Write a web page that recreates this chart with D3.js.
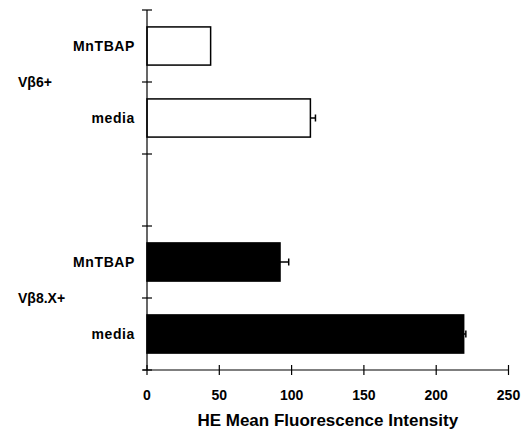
<!DOCTYPE html>
<html>
<head>
<meta charset="utf-8">
<script src="https://cdn.jsdelivr.net/npm/d3@7"></script>
<style>
	body { margin: 0; background: #fff; }
	text { font-family: Arial, 'Liberation Sans', Helvetica, sans-serif; font-weight: bold; fill: #000; }
</style>
</head>
<body>
<svg id="chart" width="527" height="433"></svg>
<script>
// Slots from top to bottom; the empty slot separates the two groups.
const slots = ['v6-MnTBAP', 'v6-media', 'gap', 'v8-MnTBAP', 'v8-media'];
const treatments = ['MnTBAP', 'media', '', 'MnTBAP', 'media'];
const groups = ['V\u03b26+', 'V\u03b26+', '', 'V\u03b28.X+', 'V\u03b28.X+'];
const values = [44, 113, null, 92, 219];
const errors = [0, 3.5, null, 6, 1.5];
const xTicks = [0, 50, 100, 150, 200, 250];
const xTitle = 'HE Mean Fluorescence Intensity';

const svg = d3.select('#chart');

const x = d3.scaleLinear().domain([0, 250]).range([147, 508.5]);
const y = d3.scaleBand().domain(slots).range([10, 370]).padding(0);

const barH = y.bandwidth() * 0.53;

const rows = slots
	.map((s, i) => ({ slot: s, treatment: treatments[i], group: groups[i], value: values[i], err: errors[i], dark: s.startsWith('v8') }))
	.filter(d => d.value !== null);

// Bars.
svg
	.append('g')
	.selectAll('rect')
	.data(rows)
	.join('rect')
	.attr('x', x(0))
	.attr('y', d => y(d.slot) + (y.bandwidth() - barH) / 2)
	.attr('width', d => x(d.value) - x(0))
	.attr('height', barH)
	.attr('fill', d => (d.dark ? '#000' : '#fff'))
	.attr('stroke', '#000')
	.attr('stroke-width', 1.5);

// Error bars.
const eb = svg
	.append('g')
	.selectAll('g')
	.data(rows.filter(d => d.err > 0))
	.join('g')
	.attr('stroke', '#000')
	.attr('stroke-width', 1.5);

eb.append('line')
	.attr('x1', d => x(d.value))
	.attr('x2', d => x(d.value + d.err))
	.attr('y1', d => y(d.slot) + y.bandwidth() / 2)
	.attr('y2', d => y(d.slot) + y.bandwidth() / 2);

eb.append('line')
	.attr('x1', d => x(d.value + d.err))
	.attr('x2', d => x(d.value + d.err))
	.attr('y1', d => y(d.slot) + y.bandwidth() / 2 - 3.5)
	.attr('y2', d => y(d.slot) + y.bandwidth() / 2 + 3.5);

// Y axis with ticks on band boundaries.
const yEdges = slots.map(s => y(s)).concat([y.range()[1]]);
const yAxis = svg.append('g').attr('stroke', '#000').attr('stroke-width', 1.2);
yAxis.append('line').attr('x1', x(0)).attr('x2', x(0)).attr('y1', y.range()[0]).attr('y2', y.range()[1]);
yAxis
	.selectAll('line.tick')
	.data(yEdges)
	.join('line')
	.attr('class', 'tick')
	.attr('x1', x(0) - 5)
	.attr('x2', x(0) + 5)
	.attr('y1', d => d)
	.attr('y2', d => d);

// X axis.
const xAxisY = y.range()[1];
const xAxis = svg.append('g').attr('stroke', '#000').attr('stroke-width', 1.2);
xAxis.append('line').attr('x1', x(0) - 4).attr('x2', x(250)).attr('y1', xAxisY).attr('y2', xAxisY);
xAxis
	.selectAll('line.tick')
	.data(xTicks)
	.join('line')
	.attr('class', 'tick')
	.attr('x1', d => x(d))
	.attr('x2', d => x(d))
	.attr('y1', xAxisY - 5)
	.attr('y2', xAxisY + 5);

svg
	.append('g')
	.selectAll('text')
	.data(xTicks)
	.join('text')
	.attr('x', d => x(d))
	.attr('y', 400)
	.attr('text-anchor', 'middle')
	.attr('font-size', '14px')
	.text(d => d);

svg
	.append('text')
	.attr('x', (x(0) + x(250)) / 2 + 0)
	.attr('y', 426)
	.attr('text-anchor', 'middle')
	.attr('font-size', '17px')
	.text(xTitle);

// Treatment labels.
svg
	.append('g')
	.selectAll('text')
	.data(rows)
	.join('text')
	.attr('x', 135)
	.attr('y', d => y(d.slot) + y.bandwidth() / 2)
	.attr('dy', '0.35em')
	.attr('text-anchor', 'end')
	.attr('font-size', '14px')
	.attr('letter-spacing', '0.6px')
	.text(d => d.treatment);

// Group labels, centred on the boundary between their two slots.
const groupNames = Array.from(new Set(groups.filter(g => g)));
svg
	.append('g')
	.selectAll('text')
	.data(groupNames)
	.join('text')
	.attr('x', 18)
	.attr('y', g => y(slots[groups.indexOf(g) + 1]))
	.attr('dy', '0.35em')
	.attr('font-size', '14px')
	.text(g => g);
</script>
</body>
</html>
